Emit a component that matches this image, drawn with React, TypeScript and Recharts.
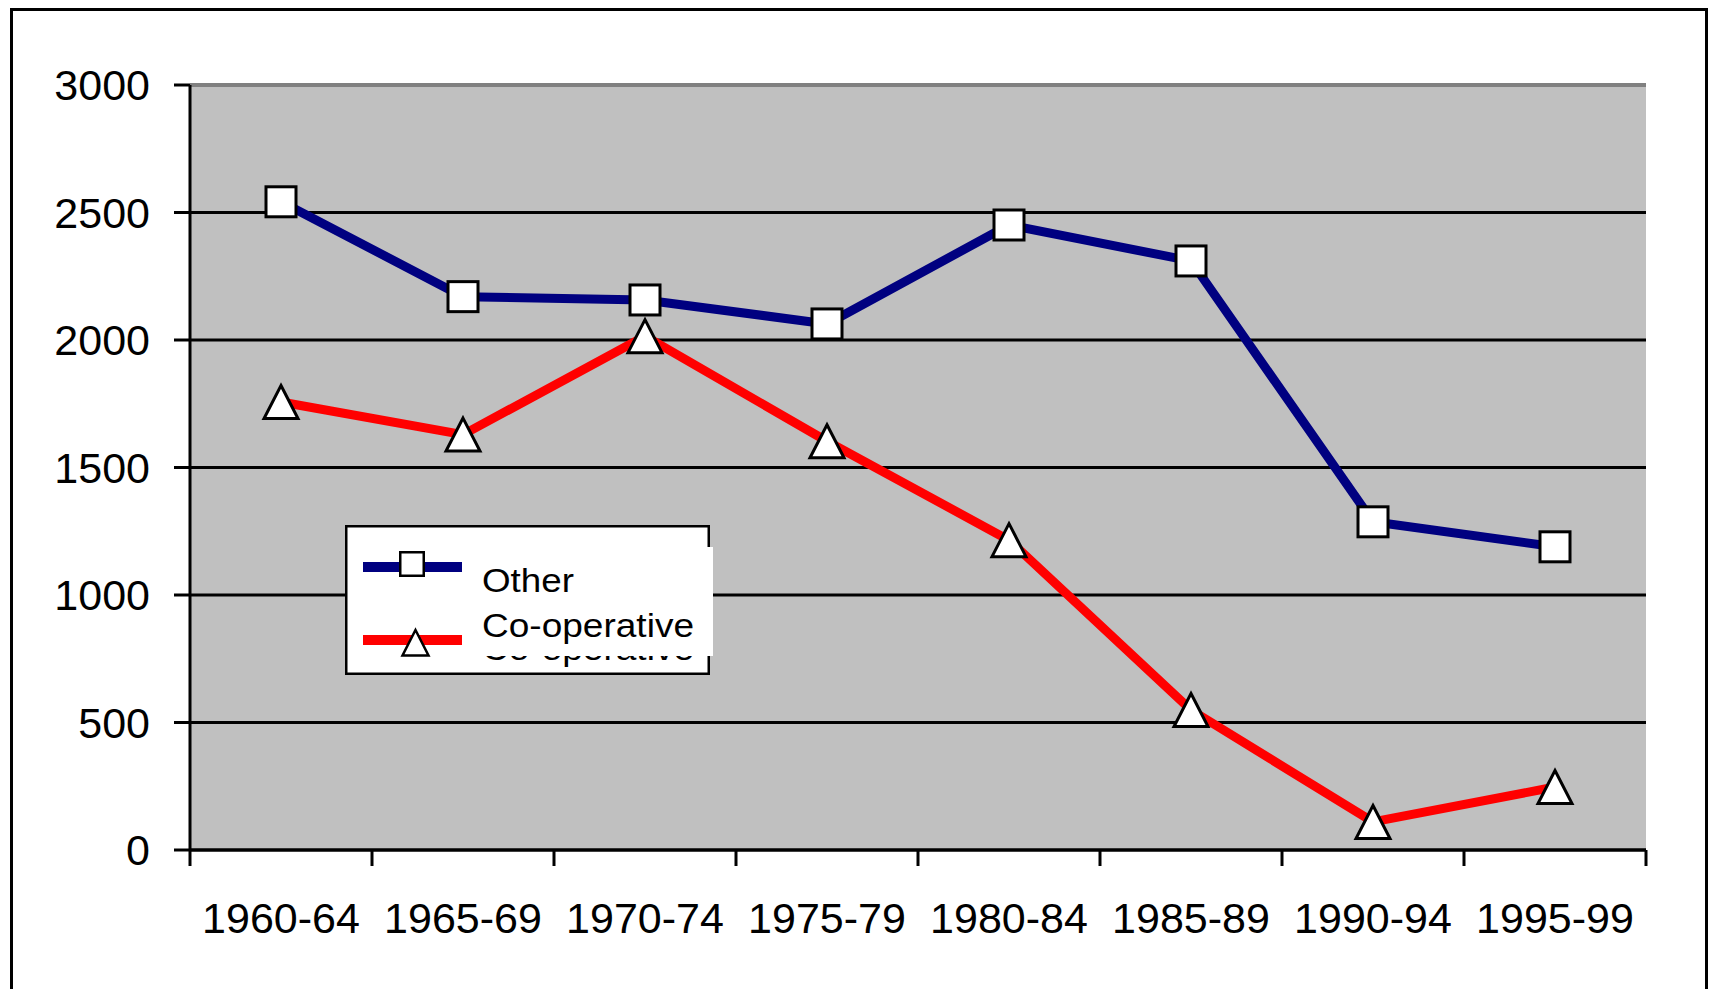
import React from 'react';
import { LineChart, Line, XAxis, YAxis, CartesianGrid, ReferenceLine } from 'recharts';

const categories = ['1960-64', '1965-69', '1970-74', '1975-79', '1980-84', '1985-89', '1990-94', '1995-99'];
const otherValues = [2542, 2170, 2157, 2063, 2451, 2310, 1287, 1189];
const coopValues = [1757, 1629, 2015, 1603, 1215, 549, 110, 247];
const yTicks = [0, 500, 1000, 1500, 2000, 2500, 3000];

const seriesDefs = [
  { key: 'other', name: 'Other', color: '#000080', marker: 'square' },
  { key: 'coop', name: 'Co-operative', color: '#FF0000', marker: 'triangle' },
];

const data = categories.map((c, i) => ({ cat: c, other: otherValues[i], coop: coopValues[i] }));

const FONT = '"Liberation Sans", Arial, sans-serif';

const SquareDot = (props: any) => {
  const { cx, cy, index } = props;
  if (cx == null || cy == null) return <g key={`s${index}`} />;
  const s = 30;
  return (
    <rect key={`s${index}`} x={cx - s / 2} y={cy - s / 2} width={s} height={s}
      fill="#fff" stroke="#000" strokeWidth={3} />
  );
};

const TriangleDot = (props: any) => {
  const { cx, cy, index } = props;
  if (cx == null || cy == null) return <g key={`t${index}`} />;
  const hw = 17;
  const hh = 16.5;
  return (
    <polygon key={`t${index}`}
      points={`${cx},${cy - hh} ${cx + hw},${cy + hh} ${cx - hw},${cy + hh}`}
      fill="#fff" stroke="#000" strokeWidth={3} strokeLinejoin="miter" />
  );
};

const XTick = (props: any) => {
  const { x, y, payload, index } = props;
  const off = payload && typeof payload.offset === 'number' && payload.offset > 0 ? payload.offset : 1456 / categories.length / 2;
  const axisY = y - 16;
  const isLast = index === categories.length - 1;
  return (
    <g>
      <line x1={x - off} x2={x - off} y1={axisY} y2={axisY + 16} stroke="#000" strokeWidth={3} />
      {isLast && <line x1={x + off} x2={x + off} y1={axisY} y2={axisY + 16} stroke="#000" strokeWidth={3} />}
      <text x={x} y={axisY + 83} textAnchor="middle" fontSize={43} fontFamily={FONT} fill="#000">
        {payload.value}
      </text>
    </g>
  );
};

const LegendBox = () => {
  const rows = [
    { y: 567, textY: 592, textLen: 92 },
    { y: 640, textY: 637, textLen: 212 },
  ];
  return (
    <svg width={1715} height={989} style={{ position: 'absolute', left: 0, top: 0, pointerEvents: 'none' }}>
      <rect x={346.25} y={526.25} width={362.5} height={147.5} fill="#fff" stroke="#000" strokeWidth={2.5} />
      <text x={482} y={660} fontSize={33} fontFamily={FONT} fill="#000" textLength={212} lengthAdjust="spacingAndGlyphs">
        {seriesDefs[1].name}
      </text>
      <rect x={348} y={547} width={365} height={109} fill="#fff" />
      {seriesDefs.map((s, i) => {
        const r = rows[i];
        return (
          <g key={s.key}>
            <line x1={363} x2={462} y1={r.y} y2={r.y} stroke={s.color} strokeWidth={10} />
            {s.marker === 'square' ? (
              <rect x={412 - 11.75} y={564 - 11.75} width={23.5} height={23.5} fill="#fff" stroke="#000" strokeWidth={2.5} />
            ) : (
              <polygon points={`415.5,630 428.5,655.5 402.5,655.5`} fill="#fff" stroke="#000" strokeWidth={2.5} />
            )}
            <text x={482} y={r.textY} fontSize={33} fontFamily={FONT} fill="#000" textLength={r.textLen} lengthAdjust="spacingAndGlyphs">
              {s.name}
            </text>
          </g>
        );
      })}
    </svg>
  );
};

export default function App() {
  return (
    <div style={{ position: 'fixed', left: 0, top: 0, width: 1715, height: 989, overflow: 'hidden', background: '#fff', fontFamily: FONT }}>
      <div style={{ position: 'absolute', left: 10, top: 8, width: 1698, height: 1100, border: '3px solid #000', boxSizing: 'border-box' }} />
      <div style={{ position: 'absolute', left: 0, top: 0 }}>
        <LineChart width={1715} height={989} data={data} margin={{ top: 85, right: 69, left: 10, bottom: 9 }}>
          <CartesianGrid vertical={false} horizontal={true} stroke="#000" strokeWidth={3} fill="#C0C0C0" fillOpacity={1} />
          <XAxis dataKey="cat" scale="band" height={130} tickLine={false} tickSize={16} tickMargin={0}
            axisLine={{ stroke: '#000', strokeWidth: 3 }} tick={<XTick />} interval={0} />
          <YAxis domain={[0, 3000]} ticks={yTicks} width={180} tickSize={16} tickMargin={24}
            axisLine={{ stroke: '#000', strokeWidth: 3 }} tickLine={{ stroke: '#000', strokeWidth: 3 }}
            tick={{ fontSize: 43, fontFamily: FONT, fill: '#000' }} interval={0} allowDataOverflow />
          <YAxis yAxisId="r" orientation="right" width={0} tick={false} tickLine={false}
            axisLine={{ stroke: '#808080', strokeWidth: 3 }} />
          <ReferenceLine y={3000} stroke="#808080" strokeWidth={4} />
          <Line dataKey="other" name={seriesDefs[0].name} stroke={seriesDefs[0].color} strokeWidth={9}
            dot={SquareDot} activeDot={false} isAnimationActive={false} strokeLinejoin="round" />
          <Line dataKey="coop" name={seriesDefs[1].name} stroke={seriesDefs[1].color} strokeWidth={9}
            dot={TriangleDot} activeDot={false} isAnimationActive={false} strokeLinejoin="round" />
        </LineChart>
      </div>
      <LegendBox />
    </div>
  );
}
